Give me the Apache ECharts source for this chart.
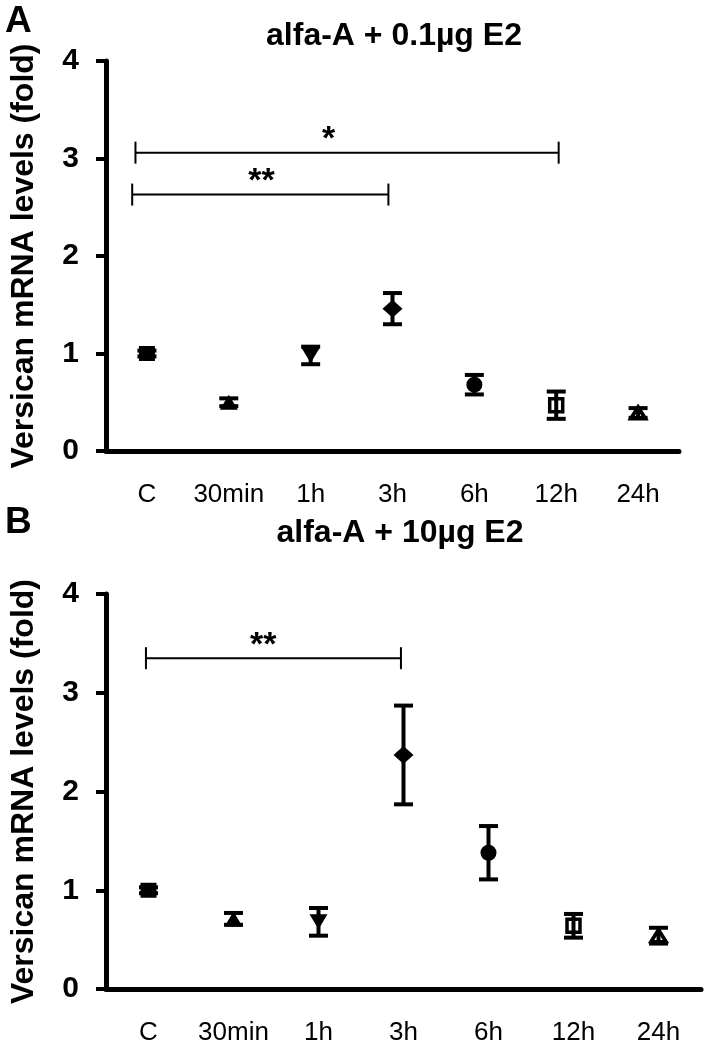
<!DOCTYPE html>
<html><head><meta charset="utf-8">
<script src="https://cdn.jsdelivr.net/npm/echarts@6/dist/echarts.min.js"></script>
<style>html,body{margin:0;padding:0;background:#fff}#c{width:708px;height:1046px}</style>
</head><body><div id="c"></div>
<script>
// ---- data ----
const categories = ['C', '30min', '1h', '3h', '6h', '12h', '24h'];
const yTicks = [0, 1, 2, 3, 4];
const meanA = [1.00, 0.50, 0.98, 1.46, 0.68, 0.47, 0.39];
const errA  = [0.03, 0.04, 0.09, 0.16, 0.10, 0.14, 0.05];
const meanB = [1.00, 0.71, 0.68, 2.37, 1.38, 0.64, 0.54];
const errB  = [0.03, 0.06, 0.14, 0.50, 0.27, 0.12, 0.08];
const markerKinds = ['square', 'triangle', 'triangleDown', 'diamond', 'circle', 'squareOpen', 'triangleOpen'];
// significance brackets: [x start (category units), x end, y level, label, label x]
const sigA = [[-0.14, 5.03, 3.06, '*', 2.22], [-0.18, 2.95, 2.63, '**', 1.40]];
const sigB = [[-0.03, 2.97, 3.35, '**', 1.35]];
const titleA = 'alfa-A + 0.1µg E2';
const titleB = 'alfa-A + 10µg E2';
const panelA = 'A';
const panelB = 'B';
const yName = 'Versican mRNA levels (fold)';

// ---- rendering ----
const FONT = '"Liberation Sans", Arial, sans-serif';
const chart = echarts.init(document.getElementById('c'), null, {renderer: 'canvas'});

function markerStyle(kind) {
  const filled = {color: '#000', borderColor: '#000', borderWidth: 0, opacity: 1};
  const open = {color: 'rgba(0,0,0,0)', borderColor: '#000', borderWidth: 3.5, opacity: 1};
  switch (kind) {
    case 'square': return {symbol: 'rect', symbolSize: [16, 15], itemStyle: filled};
    case 'triangle': return {symbol: 'triangle', symbolSize: [18, 15], itemStyle: filled};
    case 'triangleDown': return {symbol: 'triangle', symbolSize: [18, 15], symbolRotate: 180, itemStyle: filled};
    case 'diamond': return {symbol: 'diamond', symbolSize: [20, 18], itemStyle: filled};
    case 'circle': return {symbol: 'circle', symbolSize: 16, itemStyle: filled};
    case 'squareOpen': return {symbol: 'rect', symbolSize: [13, 13], itemStyle: open};
    case 'triangleOpen': return {symbol: 'triangle', symbolSize: [15, 12], itemStyle: open};
  }
}

function scatterData(means) {
  return means.map((v, i) => Object.assign({value: [i, v]}, markerStyle(markerKinds[i])));
}

// category axes round fractional positions, so interpolate between two category centres
function catCoord(api, x, y) {
  const a = api.coord([0, y]);
  const b = api.coord([1, y]);
  return [a[0] + (b[0] - a[0]) * x, a[1]];
}

function errorRender(params, api) {
  const i = api.value(0), m = api.value(1), e = api.value(2);
  const top = api.coord([i, m + e]);
  const bot = api.coord([i, m - e]);
  const hw = 9.5;
  const st = {stroke: '#000', lineWidth: 4};
  return {type: 'group', children: [
    {type: 'line', shape: {x1: top[0], y1: top[1], x2: bot[0], y2: bot[1]}, style: st},
    {type: 'line', shape: {x1: top[0] - hw, y1: top[1], x2: top[0] + hw, y2: top[1]}, style: st},
    {type: 'line', shape: {x1: bot[0] - hw, y1: bot[1], x2: bot[0] + hw, y2: bot[1]}, style: st}
  ]};
}

function bracketRender(sig) {
  return function (params, api) {
    const row = sig[params.dataIndex];
    const p1 = catCoord(api, row[0], row[2]);
    const p2 = catCoord(api, row[1], row[2]);
    const pl = catCoord(api, row[4], row[2]);
    const ch = 11;
    const st = {stroke: '#000', lineWidth: 2};
    return {type: 'group', children: [
      {type: 'line', shape: {x1: p1[0], y1: p1[1], x2: p2[0], y2: p2[1]}, style: st},
      {type: 'line', shape: {x1: p1[0], y1: p1[1] - ch, x2: p1[0], y2: p1[1] + ch}, style: st},
      {type: 'line', shape: {x1: p2[0], y1: p2[1] - ch, x2: p2[0], y2: p2[1] + ch}, style: st},
      {type: 'text', x: pl[0], y: p1[1] + 4,
        style: {text: row[3], fill: '#000', font: 'bold 34px ' + FONT, align: 'center', verticalAlign: 'bottom'}}
    ]};
  };
}

function xAxisCfg(gi) {
  return {
    gridIndex: gi, type: 'category', data: categories, boundaryGap: true,
    axisLine: {lineStyle: {color: '#000', width: 5}},
    axisTick: {alignWithLabel: true, length: 10, lineStyle: {color: '#000', width: 4}},
    axisLabel: {color: '#000', fontSize: 26, fontFamily: FONT, margin: 31, interval: 0},
    splitLine: {show: false}
  };
}
function yAxisCfg(gi) {
  return {
    gridIndex: gi, type: 'value', min: yTicks[0], max: yTicks[yTicks.length - 1], interval: 1,
    axisLine: {show: true, lineStyle: {color: '#000', width: 5}},
    axisTick: {show: true, length: 10, lineStyle: {color: '#000', width: 4}},
    axisLabel: {color: '#000', fontSize: 30, fontWeight: 'bold', fontFamily: FONT, margin: 27},
    splitLine: {show: false},
    name: yName, nameLocation: 'middle', nameGap: 66,
    nameTextStyle: {color: '#000', fontSize: 32, fontWeight: 'bold', fontFamily: FONT}
  };
}

const option = {
  backgroundColor: '#fff',
  animation: false,
  title: [
    {text: titleA, left: 389, top: 15, textAlign: 'center', textStyle: {fontSize: 32, fontWeight: 'bold', fontFamily: FONT, color: '#000'}},
    {text: titleB, left: 395, top: 512, textAlign: 'center', textStyle: {fontSize: 32, fontWeight: 'bold', fontFamily: FONT, color: '#000'}},
    {text: panelA, left: 0, top: -2, textStyle: {fontSize: 37, fontWeight: 'bold', fontFamily: FONT, color: '#000'}},
    {text: panelB, left: 0, top: 499, textStyle: {fontSize: 37, fontWeight: 'bold', fontFamily: FONT, color: '#000'}}
  ],
  grid: [
    {left: 100, right: 29, top: 61, height: 390},
    {left: 106, right: 7, top: 594, height: 396}
  ],
  xAxis: [xAxisCfg(0), xAxisCfg(1)],
  yAxis: [yAxisCfg(0), yAxisCfg(1)],
  series: [
    {type: 'scatter', xAxisIndex: 0, yAxisIndex: 0, data: scatterData(meanA), z: 3},
    {type: 'custom', xAxisIndex: 0, yAxisIndex: 0, renderItem: errorRender,
      data: meanA.map((m, i) => [i, m, errA[i]]), encode: {x: 0, y: 1}, z: 4},
    {type: 'custom', xAxisIndex: 0, yAxisIndex: 0, renderItem: bracketRender(sigA),
      data: sigA.map(r => [0, r[2]]), encode: {x: 0, y: 1}, z: 5, clip: false},
    {type: 'scatter', xAxisIndex: 1, yAxisIndex: 1, data: scatterData(meanB), z: 3},
    {type: 'custom', xAxisIndex: 1, yAxisIndex: 1, renderItem: errorRender,
      data: meanB.map((m, i) => [i, m, errB[i]]), encode: {x: 0, y: 1}, z: 4},
    {type: 'custom', xAxisIndex: 1, yAxisIndex: 1, renderItem: bracketRender(sigB),
      data: sigB.map(r => [0, r[2]]), encode: {x: 0, y: 1}, z: 5, clip: false}
  ]
};
chart.setOption(option);
</script>
</body></html>
